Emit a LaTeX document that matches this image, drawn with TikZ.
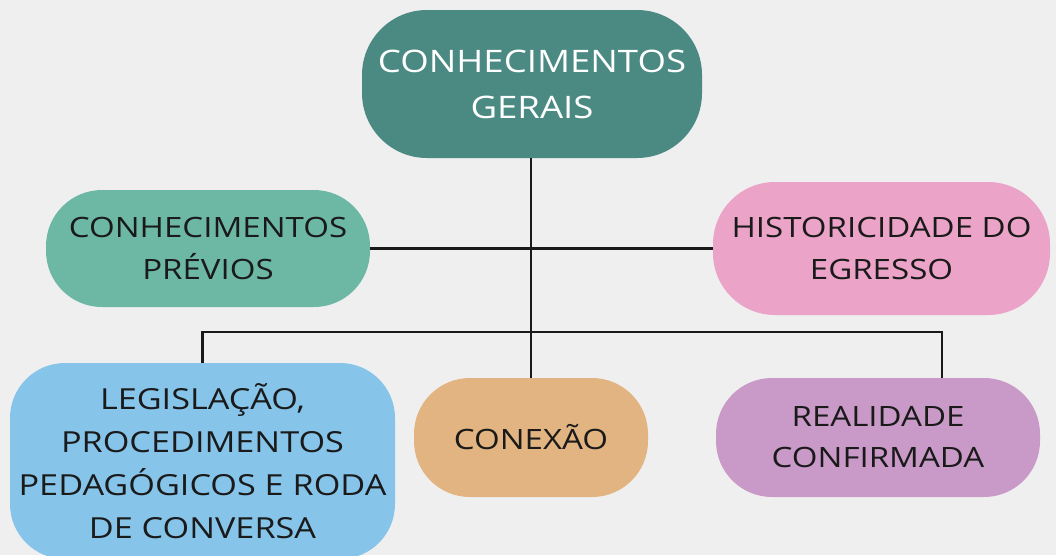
\documentclass[tikz,border=0pt]{standalone}
\usepackage{fontspec}
\setmainfont{Open Sans}[FakeStretch=1.18]
\definecolor{bg}{HTML}{EFEFEF}
\definecolor{cteal}{HTML}{4A8A82}
\definecolor{cgreen}{HTML}{6DB8A5}
\definecolor{cpink}{HTML}{EBA4C8}
\definecolor{cblue}{HTML}{86C4EA}
\definecolor{corange}{HTML}{E2B481}
\definecolor{cpurple}{HTML}{C99AC7}
\definecolor{ink}{HTML}{1A1A1A}
\begin{document}
\begin{tikzpicture}[x=1pt,y=-1pt,
  box/.style={rectangle, draw=none, inner sep=0pt, align=center, text=ink,
    font=\fontsize{28}{42}\selectfont},
  link/.style={draw=black!90, line width=2.2pt}]
\fill[bg] (0,0) rectangle (1056,555);
\useasboundingbox (0,0) rectangle (1056,555);
\begin{scope}
\clip (0,0) rectangle (1056,555);
\node[box, fill=cteal, text=white, minimum width=340pt, minimum height=148pt,
  rounded corners=65pt, font=\fontsize{31}{46}\selectfont] (gerais) at (532,84)
  {CONHECIMENTOS\\GERAIS};
\node[box, fill=cgreen, minimum width=324pt, minimum height=117pt,
  rounded corners=56pt] (previos) at (208,248.5)
  {CONHECIMENTOS\\PRÉVIOS};
\node[box, fill=cpink, minimum width=337pt, minimum height=133pt,
  rounded corners=62pt] (hist) at (881.5,248.5)
  {HISTORICIDADE DO\\EGRESSO};
\node[box, fill=cblue, minimum width=385pt, minimum height=196pt,
  rounded corners=55pt, font=\fontsize{29}{43}\selectfont] (leg) at (202.5,461)
  {LEGISLAÇÃO,\\PROCEDIMENTOS\\PEDAGÓGICOS E RODA\\DE CONVERSA};
\node[box, fill=corange, minimum width=234pt, minimum height=119pt,
  rounded corners=56pt] (conexao) at (531,437.5)
  {CONEXÃO};
\node[box, fill=cpurple, minimum width=324pt, minimum height=119pt,
  rounded corners=56pt, font=\fontsize{28}{41}\selectfont] (real) at (878,437.5)
  {REALIDADE\\CONFIRMADA};
\end{scope}
\coordinate (jl) at (202.5,332);
\coordinate (jr) at (942,332);
\draw[link] (gerais.south -| conexao.north) -- (conexao.north);
\draw[link] (previos.east) -- (hist.west);
\draw[link] (leg.north) -- (jl) -- (jr) -- (jr |- real.north);
\end{tikzpicture}
\end{document}
